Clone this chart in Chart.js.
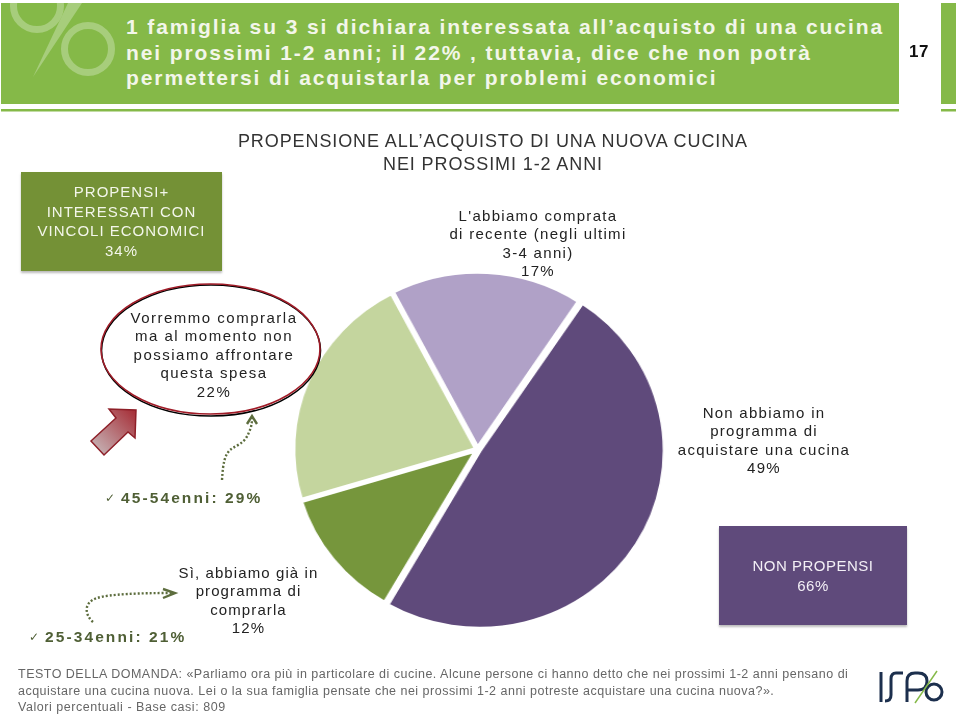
<!DOCTYPE html>
<html>
<head>
<meta charset="utf-8">
<title>Propensione all'acquisto di una nuova cucina</title>
<script src="https://cdn.jsdelivr.net/npm/chart.js@4/dist/chart.umd.min.js"></script>
<style>
html, body { margin: 0; padding: 0; background: #fff; }
body { width: 960px; height: 715px; position: relative; overflow: hidden; font-family: "Liberation Sans", Arial, sans-serif; color: #222; }
#art { position: absolute; left: 0; top: 0; }
/* nel riferimento la torta e' un po' piu' larga che alta */
#torta { position: absolute; left: 295px; top: 267px; transform: scaleX(1.04); }
.t { position: absolute; text-align: center; white-space: pre-line; font-size: 15px; line-height: 18.4px; letter-spacing: 1.5px; }
.box { position: absolute; box-shadow: 0 2px 2px rgba(120,120,120,.5); }
#titolo { left: 126px; top: 14px; text-align: left; color: #f3f6ea; font-weight: bold; font-size: 21px; line-height: 25.5px; letter-spacing: 1.9px; }
#pagina { left: 899px; top: 43px; width: 40px; font-weight: bold; font-size: 17px; letter-spacing: .5px; color: #111; }
.nota { left: 18px; text-align: left; font-size: 12.5px; line-height: 16.5px; color: #666; letter-spacing: .49px; }
.eta { font-weight: bold; color: #4f5f35; font-size: 15.5px; line-height: 18px; letter-spacing: 2.1px; text-align: left; }
.spunta { position: absolute; font-family: "DejaVu Sans", sans-serif; font-size: 12px; line-height: 18px; color: #4f5f35; }
</style>
</head>
<body>
<canvas id="torta" width="365" height="365"></canvas>

<!-- testata e forme decorative -->
<svg id="art" width="960" height="715">
  <defs>
    <linearGradient id="fr" x1="0" y1="1" x2="1" y2="0">
      <stop offset="0" stop-color="#c9c0c2"/><stop offset="1" stop-color="#a52a33"/>
    </linearGradient>
    <clipPath id="testata"><rect x="1" y="3" width="898" height="101"/></clipPath>
  </defs>
  <rect x="1" y="3" width="898" height="101" fill="#85b948"/>
  <rect x="1" y="109" width="898" height="2.5" fill="#85b948"/>
  <rect x="941" y="3" width="15" height="101" fill="#85b948"/>
  <rect x="941" y="109" width="15" height="2.5" fill="#85b948"/>
  <g clip-path="url(#testata)">
    <g fill="none" stroke="#a7cd7c" stroke-width="7">
      <circle cx="37" cy="6" r="23.5"/>
      <circle cx="88" cy="49" r="23.5"/>
    </g>
    <path d="M68 3 L82 3 L33 77 Z" fill="#a7cd7c"/>
  </g>
  <ellipse cx="211" cy="350.5" rx="109.5" ry="65.5" fill="none" stroke="#000" stroke-width="1.6"/>
  <ellipse cx="210.5" cy="349" rx="109.5" ry="65" fill="none" stroke="#a01c28" stroke-width="1.6"/>
  <path d="M136 410 L135 438 L128 432 L104 455 L91 441 L116 418 L109 409 Z" fill="url(#fr)" stroke="#8e1f28" stroke-width="1.5"/>
  <g fill="none" stroke="#5d6d3e" stroke-width="2.4">
    <path d="M222 480 C223 462 225 455 230 450 C236 445 245 444 249 432 C251 428 252 424 252 418" stroke-dasharray="2 2"/>
    <path d="M247 424 L252 416 L257 424"/>
    <path d="M93 622 C84 614 84 602 97 598 C110 594 140 593 172 593" stroke-dasharray="2 2"/>
    <path d="M163 589 L175 593 L163 598"/>
  </g>
  <g fill="none" stroke-width="3" stroke="#1c2f4d">
    <path d="M881 672 V702"/>
    <path d="M903 673 H896 Q891 673 891 679 V695 Q891 701 885 701"/>
    <path d="M907 702 V681 Q907 673 915 673 H918 Q927 673 927 681 Q927 690 918 690 H908"/>
    <circle cx="934" cy="692" r="8"/>
  </g>
  <path d="M915 703 L937 671" stroke="#85b948" stroke-width="1.5"/>
</svg>

<div class="t" id="titolo">1 famiglia su 3 si dichiara interessata all’acquisto di una cucina
nei prossimi 1-2 anni; il 22% , tuttavia, dice che non potrà
permettersi di acquistarla per problemi economici</div>
<div class="t" id="pagina">17</div>
<div class="t" style="left:190px;top:130px;width:606px;font-size:18px;line-height:22.5px;letter-spacing:.9px;color:#333">PROPENSIONE ALL’ACQUISTO DI UNA NUOVA CUCINA
NEI PROSSIMI 1-2 ANNI</div>

<div class="box" style="left:21px;top:172px;width:201px;height:99px;background:#749136"></div>
<div class="t" style="left:21px;top:182px;width:201px;color:#f3f6ea;font-size:15px;line-height:19.5px;letter-spacing:1px">PROPENSI+
INTERESSATI CON
VINCOLI ECONOMICI
34%</div>
<div class="box" style="left:719px;top:526px;width:188px;height:99px;background:#5f4a7b"></div>
<div class="t" style="left:719px;top:556px;width:188px;color:#f3eff6;font-size:15px;line-height:19.5px;letter-spacing:.5px">NON PROPENSI
66%</div>

<div class="t" id="l4" style="left:428px;top:207px;width:220px;letter-spacing:1.3px">L'abbiamo comprata
di recente (negli ultimi
3-4 anni)
17%</div>
<div class="t" id="l2" style="left:114px;top:309px;width:200px">Vorremmo comprarla
ma al momento non
possiamo affrontare
questa spesa
22%</div>
<div class="t" id="l5" style="left:664px;top:404px;width:200px;letter-spacing:1.26px">Non abbiamo in
programma di
acquistare una cucina
49%</div>
<div class="t" id="l1" style="left:150px;top:564px;width:197px;letter-spacing:1.1px">Sì, abbiamo già in
programma di
comprarla
12%</div>

<div class="spunta" style="left:105px;top:489px">✓</div>
<div class="t eta" style="left:121px;top:489px">45-54enni: 29%</div>
<div class="spunta" style="left:29px;top:628px">✓</div>
<div class="t eta" style="left:45px;top:628px">25-34enni: 21%</div>

<div class="t nota" style="top:666px;width:920px">TESTO DELLA DOMANDA: «Parliamo ora più in particolare di cucine.  Alcune persone ci hanno detto che nei prossimi 1-2 anni pensano di
acquistare una cucina nuova. Lei o la sua famiglia pensate che nei prossimi 1-2 anni potreste acquistare una cucina nuova?».</div>
<div class="t nota" style="top:699px;letter-spacing:.54px">Valori percentuali - Base casi: 809</div>

<script>
// Dati
const categories = ["Sì, abbiamo già in programma di comprarla", "Vorremmo comprarla ma al momento non possiamo affrontare questa spesa", "L'abbiamo comprata di recente (negli ultimi 3-4 anni)", "Non abbiamo in programma di acquistare una cucina"];
const values = [12, 22, 17, 49];
const sliceColors = ["#76963c", "#c4d59e", "#b0a1c7", "#5f4a7b"];
const sliceOffsets = [5, 5, 6, 9]; // fette leggermente staccate, la viola di più

document.addEventListener("DOMContentLoaded", function() {
    const canvas = document.getElementById("torta");
    new Chart(canvas.getContext("2d"), {
        type: "pie",
        data: {
            labels: categories,
            datasets: [{
                data: values,
                backgroundColor: sliceColors,
                borderColor: "#fff",
                borderWidth: 4,
                offset: sliceOffsets
            }]
        },
        options: {
            responsive: false,
            animation: false,
            rotation: 210, // angolo di partenza della fetta verde scuro
            layout: { padding: 0 },
            plugins: {
                legend: { display: false },
                tooltip: { enabled: false }
            }
        }
    });
});
</script>
</body>
</html>
